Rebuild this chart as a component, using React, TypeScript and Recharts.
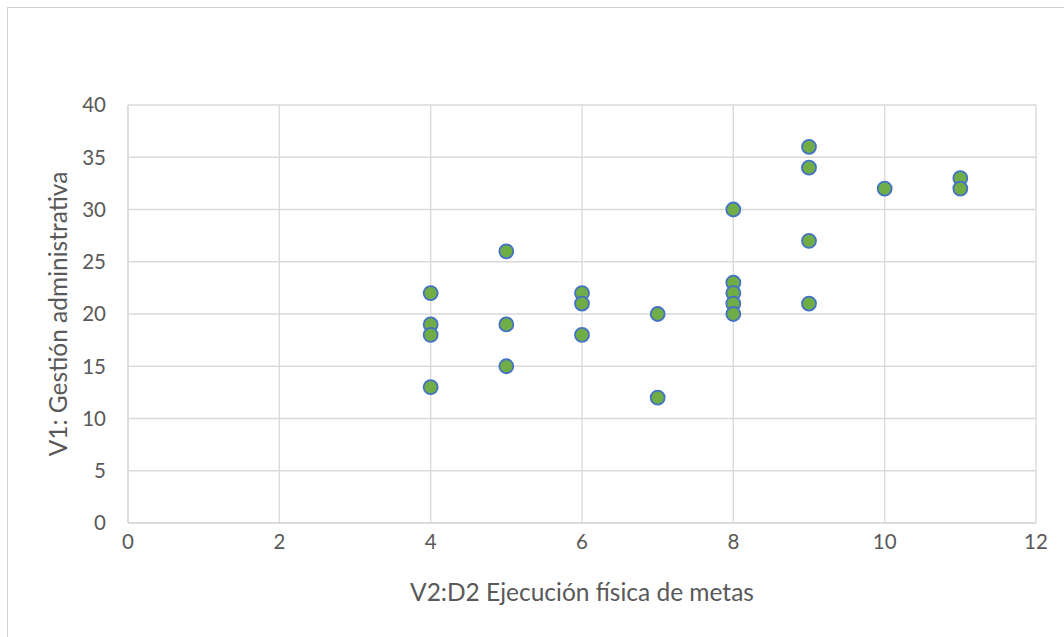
import React from "react"
import { ScatterChart, Scatter, XAxis, YAxis, CartesianGrid, Label } from "recharts"

// V2:D2 (x) vs V1 (y), one entry per respondent
const metas = [4, 4, 4, 4, 5, 5, 5, 6, 6, 6, 7, 7, 8, 8, 8, 8, 8, 9, 9, 9, 9, 10, 11, 11]
const gestion = [22, 19, 18, 13, 26, 19, 15, 22, 21, 18, 20, 12, 30, 23, 22, 21, 20, 36, 34, 27, 21, 32, 33, 32]

const xTicks = [0, 2, 4, 6, 8, 10, 12]
const yTicks = [0, 5, 10, 15, 20, 25, 30, 35, 40]

const points = metas.map((x, i) => ({ x, y: gestion[i] }))

const GRID = "#d9d9d9"
const TEXT = "#595959"
const FONT = "Lato, 'Open Sans', sans-serif"

const Dot = (props: any) => {
  const { cx, cy } = props
  if (cx == null || cy == null) return null
  return <circle cx={cx} cy={cy} r={7} fill="#70AD47" stroke="#4472C4" strokeWidth={1.8} />
}

export default function App() {
  return (
    <div style={{ position: "fixed", left: 7, top: 7, width: 1300, height: 800, borderTop: "1px solid #d0d0d0", borderLeft: "1px solid #d0d0d0", background: "#fff", fontFamily: FONT }}>
      <ScatterChart width={1050} height={623} margin={{ top: 97, right: 22, left: 0, bottom: 0 }}>
        <CartesianGrid stroke={GRID} strokeWidth={1.3} />
        <XAxis
          type="number"
          dataKey="x"
          domain={[0, 12]}
          ticks={xTicks}
          height={108}
          axisLine={{ stroke: GRID, strokeWidth: 1.3 }}
          tickLine={false}
          tickSize={6}
          tickMargin={5}
          tick={{ fill: TEXT, fontSize: 20.5, fontFamily: FONT }}
        >
          <Label value="V2:D2 Ejecución física de metas" position="center" dy={15} fill={TEXT} fontSize={24.5} fontFamily={FONT} />
        </XAxis>
        <YAxis
          type="number"
          dataKey="y"
          domain={[0, 40]}
          ticks={yTicks}
          width={120}
          axisLine={{ stroke: GRID, strokeWidth: 1.3 }}
          tickLine={false}
          tickSize={6}
          tickMargin={16}
          tick={{ fill: TEXT, fontSize: 20.5, fontFamily: FONT }}
        >
          <Label value="V1: Gestión administrativa" angle={-90} position="center" dx={-10} fill={TEXT} fontSize={24.5} fontFamily={FONT} />
        </YAxis>
        <Scatter data={points} shape={Dot} isAnimationActive={false} />
      </ScatterChart>
    </div>
  )
}
